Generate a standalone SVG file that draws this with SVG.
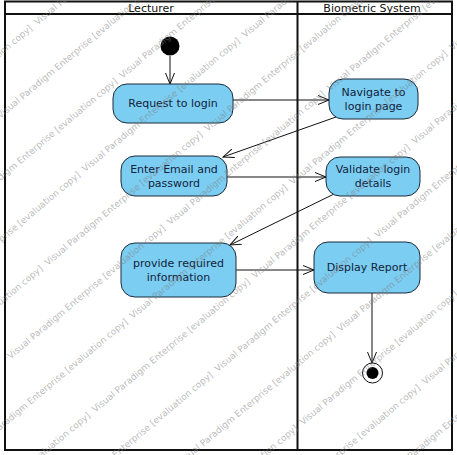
<svg xmlns="http://www.w3.org/2000/svg" width="457" height="455" viewBox="0 0 457 455">
  <style>
    .frame { fill: none; stroke: #111; stroke-width: 2; }
    .lane-title { font-family: "DejaVu Sans", Verdana, sans-serif; font-size: 11px; fill: #111; text-anchor: middle; }
    .action rect { fill: #7bcdf2; stroke: #1d2b3a; stroke-width: 1; }
    .action text { font-family: "DejaVu Sans", Verdana, sans-serif; font-size: 11px; fill: #13233a; text-anchor: middle; }
    .flow { fill: none; stroke: #111; stroke-width: 1; marker-end: url(#open); }
    .wm { font-family: "DejaVu Sans", Verdana, sans-serif; font-size: 9px; fill: #808080; fill-opacity: 0.55; }
  </style>
  <defs>
    <marker id="open" viewBox="0 0 12 10" refX="11" refY="5" markerWidth="12" markerHeight="10" markerUnits="userSpaceOnUse" orient="auto">
      <path d="M0,0.5 L11,5 L0,9.5" fill="none" stroke="#111" stroke-width="1"/>
    </marker>
  </defs>
  <rect width="457" height="455" fill="#fff"/>

  <!-- swimlanes -->
  <g id="lanes">
    <rect class="frame" x="5" y="1.5" width="447" height="448.5"/>
    <line class="frame" x1="5" y1="14" x2="452" y2="14"/>
    <line class="frame" x1="297.5" y1="1.5" x2="297.5" y2="450"/>
    <text class="lane-title" x="151" y="11.5">Lecturer</text>
    <text class="lane-title" x="372" y="11.5">Biometric System</text>
  </g>

  <!-- control flows -->
  <g id="connectors">
    <path class="flow" d="M170,56 L170,84"/>
    <path class="flow" d="M233,100 L329,100"/>
    <path class="flow" d="M336,117 L223,157"/>
    <path class="flow" d="M227,177 L326,177"/>
    <path class="flow" d="M334,194 L230,245"/>
    <path class="flow" d="M236,270 L314,270"/>
    <path class="flow" d="M372,293 L372,363"/>
  </g>

  <g id="initial">
    <circle cx="170" cy="46" r="9.5" fill="#000"/>
  </g>

  <g id="request-login" class="action">
    <rect x="113" y="84" width="120" height="39" rx="14"/>
    <text x="173" y="107">Request to login</text>
  </g>

  <g id="navigate-login" class="action">
    <rect x="329" y="79" width="89" height="40" rx="14"/>
    <text x="373.5" y="96">Navigate to</text>
    <text x="373.5" y="110">login page</text>
  </g>

  <g id="enter-credentials" class="action">
    <rect x="121" y="156" width="106" height="40" rx="14"/>
    <text x="174" y="173">Enter Email and</text>
    <text x="174" y="187">password</text>
  </g>

  <g id="validate-login" class="action">
    <rect x="326" y="157" width="94" height="39" rx="14"/>
    <text x="373" y="173">Validate login</text>
    <text x="373" y="187">details</text>
  </g>

  <g id="provide-info" class="action">
    <rect x="121" y="243" width="115" height="54" rx="14"/>
    <text x="178.5" y="267">provide required</text>
    <text x="178.5" y="281">information</text>
  </g>

  <g id="display-report" class="action">
    <rect x="314" y="242" width="106" height="51" rx="14"/>
    <text x="367" y="271">Display Report</text>
  </g>

  <g id="final">
    <circle cx="372.5" cy="373" r="10" fill="#fff" stroke="#111" stroke-width="1"/>
    <circle cx="372.5" cy="373" r="6" fill="#000"/>
  </g>

  <!-- evaluation watermark, tiled along a -40 degree diagonal -->
  <g id="watermark" class="wm" transform="rotate(-40)">
    <text x="-316" y="-4.1">Visual Paradigm Enterprise [evaluation copy]&#160; Visual Paradigm Enterprise [evaluation copy]&#160; Visual Paradigm Enterprise [evaluation copy]&#160; Visual Paradigm Enterprise [evaluation copy]</text>
    <text x="-405" y="43.6">Visual Paradigm Enterprise [evaluation copy]&#160; Visual Paradigm Enterprise [evaluation copy]&#160; Visual Paradigm Enterprise [evaluation copy]&#160; Visual Paradigm Enterprise [evaluation copy]</text>
    <text x="-285" y="91.3">Visual Paradigm Enterprise [evaluation copy]&#160; Visual Paradigm Enterprise [evaluation copy]&#160; Visual Paradigm Enterprise [evaluation copy]&#160; Visual Paradigm Enterprise [evaluation copy]</text>
    <text x="-374" y="139">Visual Paradigm Enterprise [evaluation copy]&#160; Visual Paradigm Enterprise [evaluation copy]&#160; Visual Paradigm Enterprise [evaluation copy]&#160; Visual Paradigm Enterprise [evaluation copy]</text>
    <text x="-254" y="186.7">Visual Paradigm Enterprise [evaluation copy]&#160; Visual Paradigm Enterprise [evaluation copy]&#160; Visual Paradigm Enterprise [evaluation copy]&#160; Visual Paradigm Enterprise [evaluation copy]</text>
    <text x="-343" y="234.4">Visual Paradigm Enterprise [evaluation copy]&#160; Visual Paradigm Enterprise [evaluation copy]&#160; Visual Paradigm Enterprise [evaluation copy]&#160; Visual Paradigm Enterprise [evaluation copy]</text>
    <text x="-223" y="282.1">Visual Paradigm Enterprise [evaluation copy]&#160; Visual Paradigm Enterprise [evaluation copy]&#160; Visual Paradigm Enterprise [evaluation copy]&#160; Visual Paradigm Enterprise [evaluation copy]</text>
    <text x="-312" y="329.8">Visual Paradigm Enterprise [evaluation copy]&#160; Visual Paradigm Enterprise [evaluation copy]&#160; Visual Paradigm Enterprise [evaluation copy]&#160; Visual Paradigm Enterprise [evaluation copy]</text>
    <text x="-401" y="377.5">Visual Paradigm Enterprise [evaluation copy]&#160; Visual Paradigm Enterprise [evaluation copy]&#160; Visual Paradigm Enterprise [evaluation copy]&#160; Visual Paradigm Enterprise [evaluation copy]</text>
    <text x="-281" y="425.2">Visual Paradigm Enterprise [evaluation copy]&#160; Visual Paradigm Enterprise [evaluation copy]&#160; Visual Paradigm Enterprise [evaluation copy]&#160; Visual Paradigm Enterprise [evaluation copy]</text>
    <text x="-370" y="472.9">Visual Paradigm Enterprise [evaluation copy]&#160; Visual Paradigm Enterprise [evaluation copy]&#160; Visual Paradigm Enterprise [evaluation copy]&#160; Visual Paradigm Enterprise [evaluation copy]</text>
    <text x="-250" y="520.6">Visual Paradigm Enterprise [evaluation copy]&#160; Visual Paradigm Enterprise [evaluation copy]&#160; Visual Paradigm Enterprise [evaluation copy]&#160; Visual Paradigm Enterprise [evaluation copy]</text>
    <text x="-339" y="568.3">Visual Paradigm Enterprise [evaluation copy]&#160; Visual Paradigm Enterprise [evaluation copy]&#160; Visual Paradigm Enterprise [evaluation copy]&#160; Visual Paradigm Enterprise [evaluation copy]</text>
    <text x="-219" y="616">Visual Paradigm Enterprise [evaluation copy]&#160; Visual Paradigm Enterprise [evaluation copy]&#160; Visual Paradigm Enterprise [evaluation copy]&#160; Visual Paradigm Enterprise [evaluation copy]</text>
    <text x="-308" y="663.7">Visual Paradigm Enterprise [evaluation copy]&#160; Visual Paradigm Enterprise [evaluation copy]&#160; Visual Paradigm Enterprise [evaluation copy]&#160; Visual Paradigm Enterprise [evaluation copy]</text>
  </g>
</svg>
